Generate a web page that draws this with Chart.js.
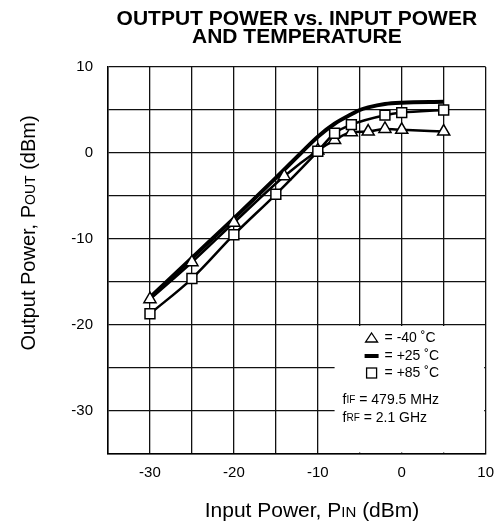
<!DOCTYPE html>
<html>
<head>
<meta charset="utf-8">
<script src="https://cdn.jsdelivr.net/npm/chart.js@4.4.0/dist/chart.umd.min.js"></script>
<style>
  html, body { margin: 0; padding: 0; background: #fff; }
  #wrap { width: 504px; height: 522px; }
</style>
</head>
<body>
<div id="wrap"><canvas id="chart" width="504" height="522"></canvas></div>
<script>
// Output power vs input power, three temperatures (dBm)
const pinCold = [-30, -25, -20, -14, -10, -8, -6, -4, -2, 0, 5]
const poutCold = [-17.0, -12.7, -8.1, -2.7, 0.3, 1.5, 2.4, 2.5, 2.8, 2.7, 2.5]

const pinRoom = [-30, -25, -20, -15, -12, -10, -8, -6, -5, -4, -2, 0, 5]
const poutRoom = [-16.8, -12.2, -7.6, -2.9, 0.0, 1.9, 3.4, 4.5, 5.0, 5.3, 5.7, 5.85, 5.95]

const pinHot = [-30, -25, -20, -15, -10, -8, -6, -2, 0, 5]
const poutHot = [-18.7, -14.6, -9.5, -4.8, 0.2, 2.3, 3.3, 4.4, 4.7, 5.0]

const xTickLabels = [-30, -20, -10, 0, 10]
const yTickLabels = [10, 0, -10, -20, -30]

const FONT = 'Arial, "Liberation Sans", Helvetica, sans-serif'
const INK = '#000'

const toPoints = (xs, ys) => xs.map((x, i) => ({ x, y: ys[i] }))

// draw a row of text runs (text, size) one after another
function runsWidth(ctx, runs) {
  let w = 0
  runs.forEach(([text, size]) => {
    ctx.font = `${size}px ${FONT}`
    w += ctx.measureText(text).width
  })
  return w
}

function drawRuns(ctx, runs, x, y) {
  runs.forEach(([text, size]) => {
    ctx.font = `${size}px ${FONT}`
    ctx.fillText(text, x, y)
    x += ctx.measureText(text).width
  })
}

// White inset box with the temperature key and test conditions
const legendBox = {
  id: 'legendBox',
  beforeDatasetsDraw(chart) {
    const { ctx, chartArea, scales: { x, y } } = chart
    const left = x.getPixelForValue(-8)
    const top = y.getPixelForValue(-20) + 1
    ctx.save()
    ctx.fillStyle = '#fff'
    ctx.fillRect(left, top, chartArea.right - 1.5 - left, chartArea.bottom - 1.5 - top)
    ctx.restore()
  },
  afterDatasetsDraw(chart) {
    const { ctx, scales: { x, y } } = chart
    const left = x.getPixelForValue(-8)
    const top = y.getPixelForValue(-20)
    const symX = left + 37
    const textX = left + 50

    ctx.save()
    ctx.fillStyle = INK
    ctx.strokeStyle = INK
    ctx.textBaseline = 'middle'

    // triangle
    let cy = top + 13
    ctx.lineWidth = 1.3
    ctx.beginPath()
    ctx.moveTo(symX, cy - 5)
    ctx.lineTo(symX + 6, cy + 4)
    ctx.lineTo(symX - 6, cy + 4)
    ctx.closePath()
    ctx.stroke()
    drawRuns(ctx, [['= -40 \u02DAC', 14]], textX, cy)

    // thick line
    cy = top + 31
    ctx.lineWidth = 4
    ctx.beginPath()
    ctx.moveTo(symX - 7, cy)
    ctx.lineTo(symX + 7, cy)
    ctx.stroke()
    drawRuns(ctx, [['= +25 \u02DAC', 14]], textX, cy)

    // square
    cy = top + 48
    ctx.lineWidth = 1.3
    ctx.strokeRect(symX - 5, cy - 5, 10, 10)
    drawRuns(ctx, [['= +85 \u02DAC', 14]], textX, cy)

    drawRuns(ctx, [['f', 14], ['IF', 10], [' = 479.5 MHz', 14]], left + 8, top + 75)
    drawRuns(ctx, [['f', 14], ['RF', 10], [' = 2.1 GHz', 14]], left + 8, top + 93)
    ctx.restore()
  }
}

// Axis titles with small-cap subscripts
const axisTitles = {
  id: 'axisTitles',
  afterDraw(chart) {
    const { ctx } = chart
    ctx.save()
    ctx.fillStyle = INK
    ctx.textBaseline = 'alphabetic'

    const xRuns = [['Input Power, P', 21], ['IN', 15], [' (dBm)', 21]]
    const xw = runsWidth(ctx, xRuns)
    drawRuns(ctx, xRuns, 312 - xw / 2, 517)

    const yRuns = [['Output Power, P', 20], ['OUT', 14], [' (dBm)', 20]]
    const yw = runsWidth(ctx, yRuns)
    ctx.translate(35, 233)
    ctx.rotate(-Math.PI / 2)
    drawRuns(ctx, yRuns, -yw / 2, 0)
    ctx.restore()
  }
}

const lineStyle = {
  borderColor: INK,
  pointBackgroundColor: '#fff',
  pointBorderColor: INK,
  pointBorderWidth: 1.5,
  cubicInterpolationMode: 'monotone',
  fill: false
}

new Chart(document.getElementById('chart'), {
  type: 'line',
  data: {
    datasets: [
      {
        ...lineStyle,
        label: '+85 C',
        data: toPoints(pinHot, poutHot),
        borderWidth: 2.5,
        pointStyle: 'rect',
        pointRadius: 7
      },
      {
        ...lineStyle,
        label: '-40 C',
        data: toPoints(pinCold, poutCold),
        borderWidth: 2.5,
        pointStyle: 'triangle',
        pointRadius: 7
      },
      {
        ...lineStyle,
        label: '+25 C',
        data: toPoints(pinRoom, poutRoom),
        borderWidth: 4,
        pointRadius: 0
      }
    ]
  },
  options: {
    responsive: false,
    animation: false,
    events: [],
    devicePixelRatio: 1,
    layout: {
      padding: { left: 0, right: 14, top: 0, bottom: 0 }
    },
    plugins: {
      legend: { display: false },
      tooltip: { enabled: false },
      title: {
        display: true,
        text: ['OUTPUT POWER vs. INPUT POWER', 'AND TEMPERATURE'],
        color: INK,
        fullSize: false,
        font: { family: FONT, size: 21, weight: 'bold', lineHeight: 0.85 },
        padding: { top: 10, bottom: 21.3 }
      }
    },
    scales: {
      x: {
        type: 'linear',
        min: -35,
        max: 10,
        afterFit: (scale) => { scale.height = 68 },
        ticks: {
          stepSize: 5,
          autoSkip: false,
          maxRotation: 0,
          padding: 10,
          color: INK,
          font: { family: FONT, size: 15 },
          callback: (v) => xTickLabels.includes(v) ? String(v) : ''
        },
        grid: { color: '#111', lineWidth: 1.3, drawTicks: false },
        border: { color: INK, width: 1.5 }
      },
      y: {
        type: 'linear',
        min: -35,
        max: 10,
        afterFit: (scale) => { scale.width = 108 },
        ticks: {
          stepSize: 5,
          autoSkip: false,
          padding: 15,
          color: INK,
          font: { family: FONT, size: 15 },
          callback: (v) => yTickLabels.includes(v) ? String(v) : ''
        },
        grid: { color: '#111', lineWidth: 1.3, drawTicks: false },
        border: { color: INK, width: 1.5 }
      }
    }
  },
  plugins: [legendBox, axisTitles]
})
</script>
</body>
</html>
